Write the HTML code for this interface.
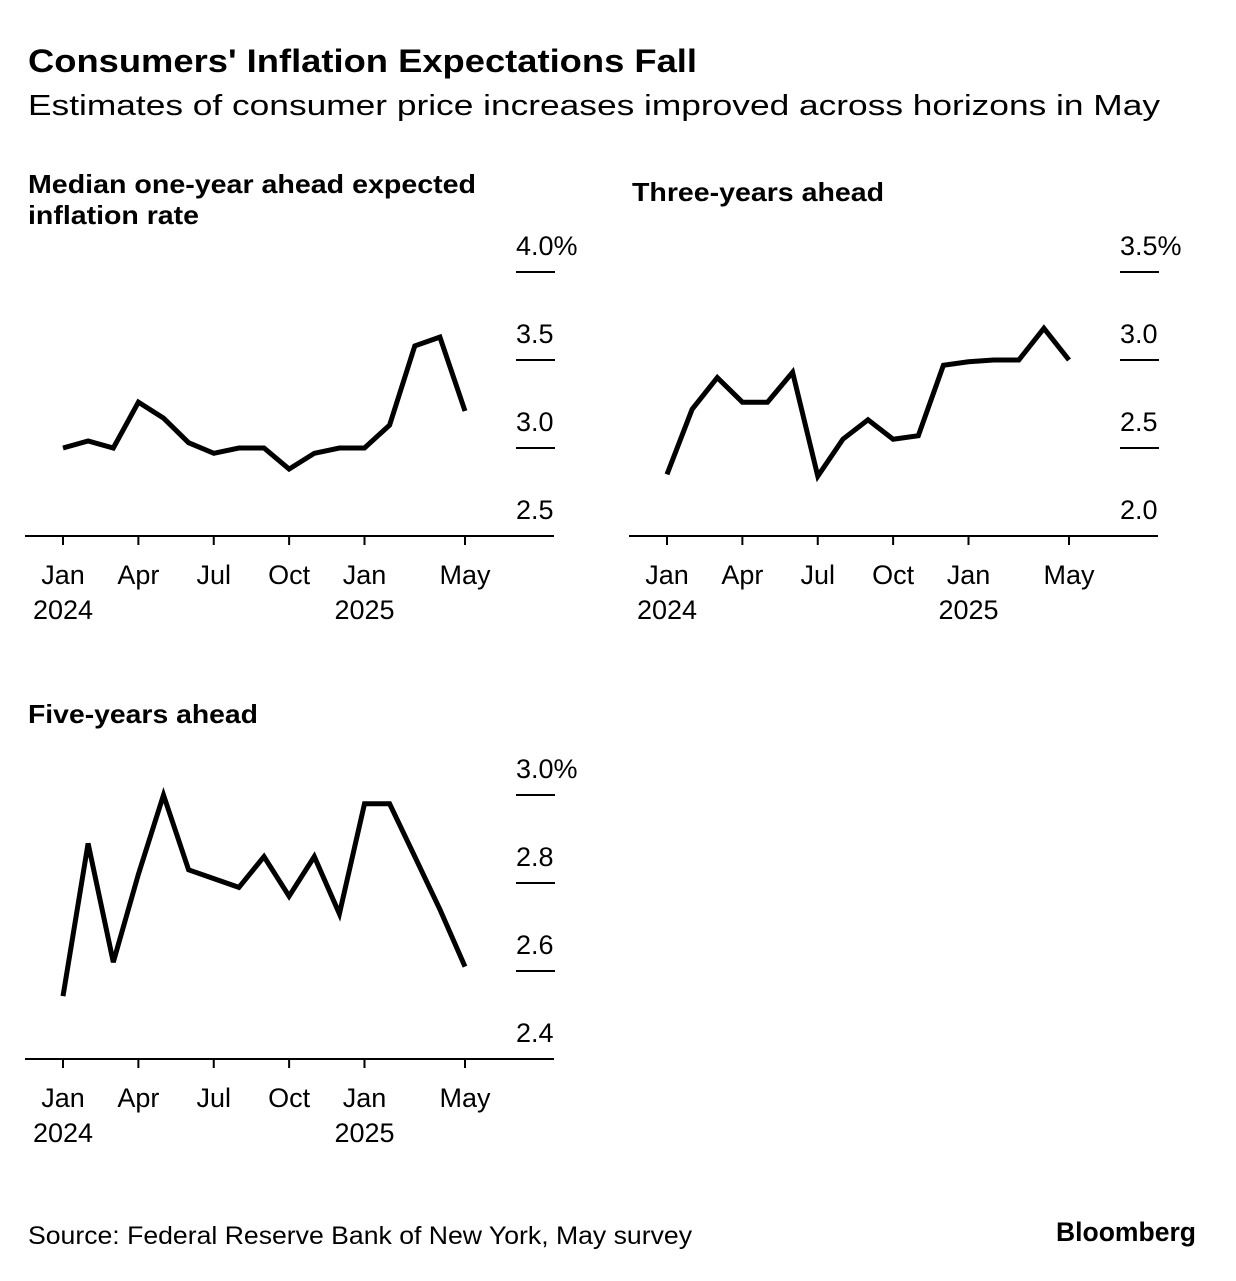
<!DOCTYPE html>
<html><head><meta charset="utf-8"><style>
body{margin:0;background:#fff;font-family:"Liberation Sans",sans-serif;}
svg text{font-family:"Liberation Sans",sans-serif;fill:#000;}
</style></head><body>
<svg id="s" width="1236" height="1276" xmlns="http://www.w3.org/2000/svg">
<text x="28" y="72" font-size="32" font-weight="bold" textLength="669" lengthAdjust="spacingAndGlyphs">Consumers' Inflation Expectations Fall</text>
<text x="28" y="115" font-size="29" textLength="1132" lengthAdjust="spacingAndGlyphs">Estimates of consumer price increases improved across horizons in May</text>
<text x="28" y="193" font-size="26" font-weight="bold" textLength="448" lengthAdjust="spacingAndGlyphs">Median one-year ahead expected</text>
<text x="28" y="224" font-size="26" font-weight="bold" textLength="171" lengthAdjust="spacingAndGlyphs">inflation rate</text>
<text x="632" y="201" font-size="26" font-weight="bold" textLength="252" lengthAdjust="spacingAndGlyphs">Three-years ahead</text>
<text x="28" y="723" font-size="26" font-weight="bold" textLength="230" lengthAdjust="spacingAndGlyphs">Five-years ahead</text>
<text x="28" y="1244" font-size="25" textLength="664" lengthAdjust="spacingAndGlyphs">Source: Federal Reserve Bank of New York, May survey</text>
<text x="1056" y="1241" font-size="27" font-weight="bold" textLength="140" lengthAdjust="spacingAndGlyphs">Bloomberg</text>
</svg>
<script>
const monthLabels=["Jan","Apr","Jul","Oct","Jan","May"];
const monthIdx=[0,3,6,9,12,16];
const yearLabels=["2024","2025"];
const yearIdx=[0,12];
const oneYear=[3.0,3.04,3.0,3.26,3.17,3.03,2.97,3.0,3.0,2.88,2.97,3.0,3.0,3.13,3.58,3.63,3.21];
const threeYear=[2.35,2.72,2.9,2.76,2.76,2.93,2.34,2.55,2.66,2.55,2.57,2.97,2.99,3.0,3.0,3.18,3.0];
const fiveYear=[2.543,2.89,2.62,2.82,3.0,2.83,2.81,2.79,2.86,2.77,2.86,2.73,2.98,2.98,2.86,2.74,2.61];
const ticks1=[2.5,3.0,3.5,4.0];
const ticks2=[2.0,2.5,3.0,3.5];
const ticks3=[2.4,2.6,2.8,3.0];
const tickLabels1=["2.5","3.0","3.5","4.0%"];
const tickLabels2=["2.0","2.5","3.0","3.5%"];
const tickLabels3=["2.4","2.6","2.8","3.0%"];
const NS="http://www.w3.org/2000/svg";
const svg=document.getElementById('s');
function mk(t,a){const e=document.createElementNS(NS,t);for(const k in a)e.setAttribute(k,a[k]);svg.appendChild(e);return e;}
function panel(p,vals,ticks,labels,ox,oy){
  const x0=ox+63,x1=ox+465,base=oy+536,top=oy+272;
  const lo=ticks[0],hi=ticks[ticks.length-1];
  const xs=i=>x0+(x1-x0)*i/16;
  const ys=v=>base-(v-lo)/(hi-lo)*(base-top);
  const bl=mk('line',{x1:ox+25,x2:ox+554,y1:base,y2:base,stroke:'#000','stroke-width':2});
  
  
  ticks.forEach((t,i)=>{
    const y=ys(t);
    if(i>0){const l=mk('line',{x1:ox+516,x2:ox+555,y1:y,y2:y,stroke:'#000','stroke-width':2});
      
      }
    const tx=mk('text',{x:ox+516,y:y-17,'font-size':27});tx.textContent=labels[i];
    
    
  });
  monthIdx.forEach((m,i)=>{
    const x=xs(m);
    const l=mk('line',{x1:x,x2:x,y1:base,y2:base+9,stroke:'#000','stroke-width':2});
    
    
    const t=mk('text',{x:x,y:base+48,'font-size':27,'text-anchor':'middle'});t.textContent=monthLabels[i];
    
    
  });
  yearIdx.forEach((m,i)=>{
    const t=mk('text',{x:xs(m),y:base+83,'font-size':27,'text-anchor':'middle'});t.textContent=yearLabels[i];
    
    
  });
  const pts=vals.map((v,i)=>xs(i).toFixed(1)+','+ys(v).toFixed(1)).join(' ');
  const pl=mk('polyline',{points:pts,fill:'none',stroke:'#000','stroke-width':5,'stroke-linejoin':'miter'});
  
  
}
panel('one-year',oneYear,ticks1,tickLabels1,0,0);
panel('three-year',threeYear,ticks2,tickLabels2,604,0);
panel('five-year',fiveYear,ticks3,tickLabels3,0,523);
</script>
</body></html>
